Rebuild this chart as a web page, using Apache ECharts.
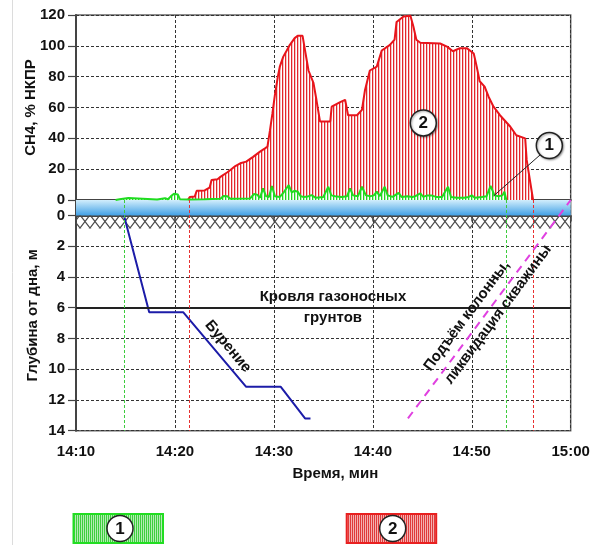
<!DOCTYPE html>
<html><head><meta charset="utf-8">
<script src="https://cdn.jsdelivr.net/npm/echarts@6/dist/echarts.min.js"></script>
<style>html,body{margin:0;padding:0;background:#fff}#c{width:606px;height:545px}</style>
</head><body><div id="c"></div>
<script>
// ---- data (time in minutes after 14:10) ----
const timeTicks = [0, 10, 20, 30, 40, 50];
const timeLabels = ['14:10', '14:20', '14:30', '14:40', '14:50', '15:00'];
const ch4Ticks = [0, 20, 40, 60, 80, 100, 120];
const depthTicks = [0, 2, 4, 6, 8, 10, 12, 14];

// series 2 (red) CH4, % НКПР
const redSeries = [[11.3,0],[11.5,2],[12.0,2.2],[12.2,6],[13.0,6.2],[13.5,8],[13.7,13],[14.3,13.5],[14.6,15],[15.3,18],[15.6,19.5],[16.1,22],[16.6,23.8],[17.2,24.9],[17.9,28],[18.6,31.4],[19.1,33.5],[19.35,34.6],[19.6,45],[19.85,56],[20.1,68],[20.4,80],[20.6,86.5],[20.95,93],[21.3,97],[21.6,100.5],[22.1,105],[22.4,106.5],[22.9,106.5],[23.15,97],[23.5,84],[24.0,76],[24.3,65],[24.66,51],[25.7,51],[25.84,60.5],[26.7,63.5],[27.2,65],[27.5,55],[28.4,55],[28.9,58.5],[29.2,71],[29.7,84],[30.4,86.5],[30.9,97],[31.7,100.5],[32.2,104],[32.4,115.5],[33.1,119],[33.8,119.5],[34.1,112.5],[34.4,104],[34.8,102],[36.8,101.5],[37.5,99.5],[38.1,96.5],[38.8,98.5],[39.5,98.5],[40.2,95],[40.5,86.5],[40.8,77],[41.3,73.5],[41.7,67],[42.2,60.5],[42.85,55],[43.9,47.5],[44.5,42],[45.4,40],[45.55,26],[46.2,0]];

// series 1 (green) CH4, % НКПР
const greenSeries = [[4.0,0],[4.4,0.5],[4.6,1.3],[5.3,1.3],[5.5,0.3],[8.2,0.3],[8.4,1.2],[9.0,1.2],[9.3,0.5],[9.6,2.5],[9.9,4],[10.3,3.5],[10.5,0.5],[11.5,0.3],[13,0.5],[14.6,0.8],[14.9,2.6],[15.3,2.4],[15.6,0.8],[17.6,1],[18.0,3.9],[18.3,3.5],[18.6,1.5],[18.9,7.6],[19.2,2.5],[19.5,2],[19.8,9.1],[20.1,2.5],[20.6,2],[21.0,5],[21.5,9.7],[21.8,5],[22.1,6],[22.4,5.4],[22.7,2.5],[23.0,2],[23.4,2.2],[23.8,3.2],[24.2,1.5],[25.0,2],[25.5,8.6],[25.8,3],[26.2,2.5],[26.8,2],[27.4,2.5],[27.7,7.6],[28.0,3],[28.5,2.5],[28.9,8.6],[29.3,3],[29.8,2.5],[30.1,3],[30.4,5.4],[30.7,2.5],[31.2,8.6],[31.5,3],[32.0,2],[32.6,4.6],[32.9,2],[33.5,2.5],[34.0,2],[34.3,2.5],[34.8,4.3],[35.1,2],[35.5,3],[35.9,3],[36.4,2],[37.0,2],[37.6,8.6],[37.9,2],[38.5,1.5],[39.2,1.5],[39.7,2],[40.0,3],[40.3,1.5],[41.0,2],[41.5,2.5],[41.9,9.1],[42.3,3],[42.7,2.5],[43.1,3],[43.3,5.4],[43.5,0]];

// drilling depth, m
const drillDepth = [[4.85,0],[7.4,6.3],[10.85,6.3],[17.2,11.15],[20.7,11.15],[23.15,13.2],[23.7,13.2]];
// column lifting / well liquidation
const liftLine = [[33.55,13.2],[50,-1]];
const gasRoofDepth = 6;
const greenMarks = [4.85, 43.5];
const redMarks = [11.4, 46.25];

// ---- patterns ----
function stripes(cols) {
  const c = document.createElement('canvas');
  c.width = cols.length; c.height = 8;
  const g = c.getContext('2d');
  cols.forEach((col, i) => { g.fillStyle = col; g.fillRect(i, 0, 1, 8); });
  return c;
}
function crossHatch() {
  const c = document.createElement('canvas');
  c.width = 10; c.height = 13;
  const g = c.getContext('2d');
  g.strokeStyle = '#4a4a4a'; g.lineWidth = 1.2;
  g.beginPath(); g.moveTo(0, 0); g.lineTo(10, 13); g.moveTo(10, 0); g.lineTo(0, 13); g.stroke();
  return c;
}
const redPat = { image: stripes(['#e3262b', '#f6c4c4', '#ffffff']), repeat: 'repeat' };
const greenPat = { image: stripes(['#22d422', '#b9efb9', '#ffffff']), repeat: 'repeat' };
const redPatL = { image: stripes(['#e03a3a', '#f3b0b0']), repeat: 'repeat' };
const greenPatL = { image: stripes(['#3fcf3f', '#b4ecb4']), repeat: 'repeat' };
const hatchPat = { image: crossHatch(), repeat: 'repeat', y: 215 };

const FONT = 'Liberation Sans, Arial, sans-serif';
const dashLine = { color: '#333', width: 1, type: [3, 2] };
const axisLineStyle = { color: '#444', width: 2 };

const circleMark = (coord, txt) => ({
  coord, symbol: 'circle', symbolSize: 26,
  itemStyle: { color: '#fff', borderColor: '#222', borderWidth: 1.5, shadowColor: 'rgba(0,0,0,0.35)', shadowBlur: 2, shadowOffsetX: 1, shadowOffsetY: 1 },
  label: { show: true, position: 'inside', formatter: txt, color: '#111', fontWeight: 'bold', fontSize: 17, fontFamily: FONT }
});
const textMark = (coord, txt, rot, extra) => ({
  coord, symbol: 'circle', symbolSize: 0,
  label: Object.assign({ show: true, position: 'inside', formatter: txt, rotate: rot, color: '#111', fontWeight: 'bold', fontSize: 15, fontFamily: FONT, lineHeight: 21 }, extra || {})
});

const chart = echarts.init(document.getElementById('c'), null, { renderer: 'canvas' });
chart.setOption({
  animation: false,
  backgroundColor: '#fff',
  grid: [
    { left: 76, top: 15, width: 494.7, height: 185, show: true, borderColor: '#666', borderWidth: 1.5 },
    { left: 76, top: 200, width: 494.7, height: 230.7, show: true, borderColor: '#666', borderWidth: 1.5 }
  ],
  xAxis: [
    { gridIndex: 0, type: 'value', min: 0, max: 50, interval: 10,
      axisLabel: { show: false }, axisTick: { show: false },
      axisLine: { lineStyle: axisLineStyle }, splitLine: { show: true, lineStyle: dashLine } },
    { gridIndex: 1, type: 'value', min: 0, max: 50, interval: 10,
      axisLabel: { formatter: v => timeLabels[timeTicks.indexOf(v)], color: '#111', fontWeight: 'bold', fontSize: 15, fontFamily: FONT, margin: 14 },
      axisTick: { show: true, length: 6, lineStyle: { color: '#444', width: 1.5 } },
      axisLine: { lineStyle: axisLineStyle }, splitLine: { show: true, lineStyle: dashLine },
      name: 'Время, мин', nameLocation: 'middle', nameGap: 36, nameMoveOverlap: false,
      nameTextStyle: { color: '#111', fontWeight: 'bold', fontSize: 15, fontFamily: FONT, padding: [0, 0, 0, 24] } }
  ],
  yAxis: [
    { gridIndex: 0, type: 'value', min: 0, max: 120, interval: 20,
      axisLabel: { customValues: ch4Ticks, color: '#111', fontWeight: 'bold', fontSize: 15, fontFamily: FONT, margin: 11 },
      axisTick: { show: true, length: 8, lineStyle: { color: '#444', width: 1.2 } },
      axisLine: { show: true, lineStyle: axisLineStyle }, splitLine: { show: true, lineStyle: dashLine },
      name: 'CH4, % НКПР', nameLocation: 'middle', nameGap: 38, nameRotate: 90, nameMoveOverlap: false,
      nameTextStyle: { color: '#111', fontWeight: 'bold', fontSize: 15, fontFamily: FONT } },
    { gridIndex: 1, type: 'value', inverse: true, min: -1, max: 14, interval: 1,
      axisLabel: { customValues: depthTicks, color: '#111', fontWeight: 'bold', fontSize: 15, fontFamily: FONT, margin: 11 },
      axisTick: { show: true, customValues: depthTicks, length: 8, lineStyle: { color: '#444', width: 1.2 } },
      axisLine: { show: true, lineStyle: axisLineStyle }, splitLine: { show: true, lineStyle: dashLine },
      name: 'Глубина от дна, м', nameLocation: 'middle', nameGap: 36, nameRotate: 90, nameMoveOverlap: false,
      nameTextStyle: { color: '#111', fontWeight: 'bold', fontSize: 15, fontFamily: FONT } }
  ],
  series: [
    { name: 'bands', type: 'line', xAxisIndex: 1, yAxisIndex: 1, data: [], z: -1, silent: true,
      markArea: { silent: true, data: [
        [{ yAxis: -1, itemStyle: { color: new echarts.graphic.LinearGradient(0, 0, 0, 1, [{ offset: 0, color: '#d2eefc' }, { offset: 1, color: '#42a1e6' }]) } }, { yAxis: 0 }],
        [{ yAxis: 0, itemStyle: { color: hatchPat } }, { yAxis: 0.85 }]
      ] } },
    { name: '2', type: 'line', xAxisIndex: 0, yAxisIndex: 0, data: redSeries, symbol: 'none', z: 3,
      lineStyle: { color: '#e8141b', width: 2 }, areaStyle: { color: redPat, opacity: 1 },
      markPoint: { silent: true, data: [circleMark([35.1, 50], '2')] } },
    { name: '1', type: 'line', xAxisIndex: 0, yAxisIndex: 0, data: greenSeries, symbol: 'none', z: 4,
      lineStyle: { color: '#1fdc1f', width: 2 }, areaStyle: { color: greenPat, opacity: 1 },
      markLine: { silent: true, symbol: ['none', 'none'], label: { show: false },
        lineStyle: { color: '#222', width: 1, type: 'solid' },
        data: [[{ coord: [42.2, 2.6] }, { coord: [46.9, 29.2] }]] },
      markPoint: { silent: true, data: [circleMark([47.84, 35.3], '1')] } },
    { name: 'drill', type: 'line', xAxisIndex: 1, yAxisIndex: 1, data: drillDepth, symbol: 'none', z: 4,
      lineStyle: { color: '#1c1ca8', width: 2 },
      markLine: { silent: true, symbol: ['none', 'none'], label: { show: false },
        data: [
          { yAxis: gasRoofDepth, lineStyle: { color: '#222', width: 2, type: 'solid' } },
          ...greenMarks.map(v => ({ xAxis: v, lineStyle: { color: '#3ccc3c', width: 1, type: [3, 2] } })),
          ...redMarks.map(v => ({ xAxis: v, lineStyle: { color: '#e83030', width: 1, type: [3, 2] } }))
        ] },
      markPoint: { silent: true, data: [
        textMark([25.97, 5.95], 'Кровля газоносных\nгрунтов', 0),
        textMark([15.36, 8.52], 'Бурение', -50)
      ] } },
    { name: 'lift', type: 'line', xAxisIndex: 1, yAxisIndex: 1, data: liftLine, symbol: 'none', z: 4, clip: false,
      lineStyle: { color: '#e040e0', width: 2, type: [8, 6] },
      markPoint: { silent: true, data: [
        textMark([39.5, 6.52], 'Подъём колонны,', 53.4),
        textMark([42.65, 6.45], 'ликвидация скважины', 53.4)
      ] } }
  ],
  graphic: [
    { type: 'line', shape: { x1: 12.5, y1: 0, x2: 12.5, y2: 545 }, style: { stroke: '#dcdcdc', lineWidth: 1 } },
    { type: 'rect', shape: { x: 73.5, y: 514, width: 89.5, height: 29 }, style: { fill: greenPatL, stroke: '#22dd22', lineWidth: 2 } },
    { type: 'circle', shape: { cx: 120, cy: 528.5, r: 13 }, style: { fill: '#fff', stroke: '#222', lineWidth: 1.5 } },
    { type: 'text', x: 120, y: 529, style: { text: '1', align: 'center', verticalAlign: 'middle', textAlign: 'center', textVerticalAlign: 'middle', font: 'bold 17px Liberation Sans, Arial, sans-serif', fill: '#111' } },
    { type: 'rect', shape: { x: 346.7, y: 514, width: 89.5, height: 29 }, style: { fill: redPatL, stroke: '#e82020', lineWidth: 2 } },
    { type: 'circle', shape: { cx: 392.7, cy: 528.5, r: 13 }, style: { fill: '#fff', stroke: '#222', lineWidth: 1.5 } },
    { type: 'text', x: 392.7, y: 529, style: { text: '2', align: 'center', verticalAlign: 'middle', textAlign: 'center', textVerticalAlign: 'middle', font: 'bold 17px Liberation Sans, Arial, sans-serif', fill: '#111' } }
  ]
});
</script></body></html>
